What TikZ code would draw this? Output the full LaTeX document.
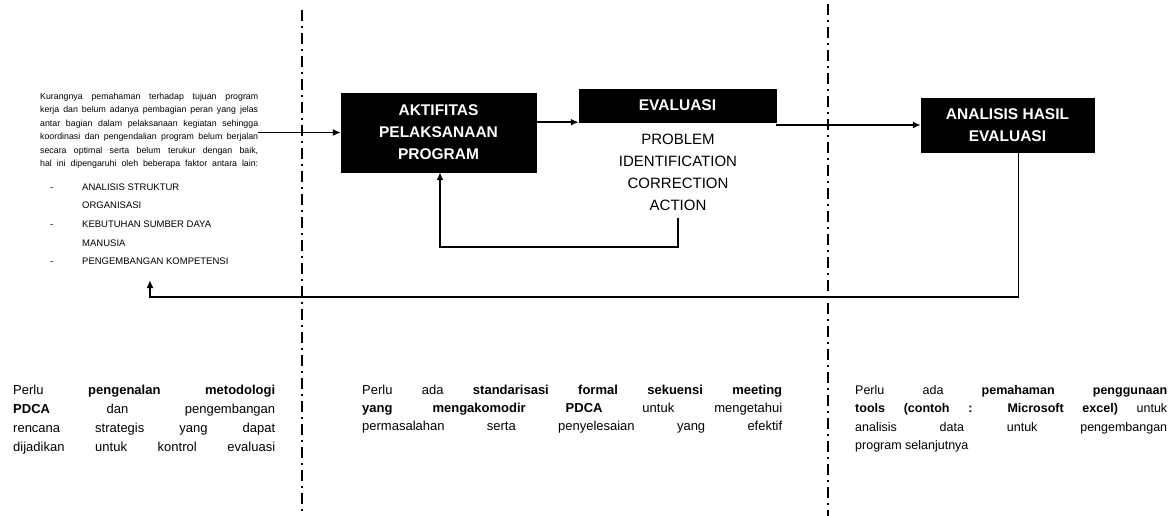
\documentclass[tikz,border=0pt]{standalone}
\usepackage{fontspec}
\setmainfont{Liberation Sans}
\usetikzlibrary{arrows.meta}
\hyphenpenalty=10000
\exhyphenpenalty=10000
\newcommand{\fullpar}{\parfillskip=0pt\relax}

\tikzset{
  blackbox/.style={draw, fill=black, text=white, align=center, inner sep=2pt,
    font=\fontsize{15.5}{22}\selectfont\bfseries},
  plainlist/.style={align=center, inner xsep=2pt, inner ysep=7pt,
    font=\fontsize{15}{22}\selectfont},
  arr/.style={line width=1.8pt, -{Latex[length=8pt,width=7pt]}},
  divider/.style={line width=1.5pt, dash pattern=on 11pt off 5pt on 2pt off 5pt},
  note/.style={anchor=north west, inner sep=0pt},
}

\begin{document}
\begin{tikzpicture}[x=1pt, y=-1pt]
	\useasboundingbox[fill=white] (0,0) rectangle (1173,516);

	% Dividers
	\draw[divider] (302,10) -- (302,512);
	\draw[divider] (828,4) -- (828,516);

	% Left column
	\node[note, font=\fontsize{8.8}{13.4}\selectfont] (issue) at (40,93)
		{\parbox{218pt}{\fullpar Kurangnya pemahaman terhadap tujuan program kerja dan belum adanya pembagian peran yang jelas antar bagian dalam pelaksanaan kegiatan sehingga koordinasi dan pengendalian program belum berjalan secara optimal serta belum terukur dengan baik, hal ini dipengaruhi oleh beberapa faktor antara lain:}};
	\node[note, font=\fontsize{9.5}{18.6}\selectfont] (causes) at (50,177)
		{\begin{tabular}{@{}p{32pt}@{}l@{}}
			- & ANALISIS STRUKTUR\\
			  & ORGANISASI\\
			- & KEBUTUHAN SUMBER DAYA\\
			  & MANUSIA\\
			- & PENGEMBANGAN KOMPETENSI
		\end{tabular}};

	% Boxes
	\node[blackbox, minimum width=195pt, minimum height=79pt] (aktif) at (438.5,132.5) {AKTIFITAS\\PELAKSANAAN\\PROGRAM};
	\node[blackbox, minimum width=197pt, minimum height=33pt] (eval) at (677.5,105.5) {EVALUASI};
	\node[plainlist] (pica) at (678,172) {PROBLEM\\IDENTIFICATION\\CORRECTION\\ACTION};
	\node[blackbox, minimum width=173pt, minimum height=54pt] (hasil) at (1007.5,125) {ANALISIS HASIL\\EVALUASI};

	% Connectors
	\coordinate (loop) at (440,247);
	\coordinate (back) at (150,297);
	\coordinate (backtip) at (150,280);
	\draw[arr] (issue.east |- aktif.west) -- (aktif.west);
	\draw[arr] (aktif.east |- eval.south west) -- (eval.south west);
	\draw[arr] (eval.south east |- hasil.west) -- (hasil.west);
	\draw[arr] (pica.south) |- (loop) -- (loop |- aktif.south);
	\draw[arr] ([xshift=11pt]hasil.south) |- (back) -- (backtip);

	% Notes
	\node[note, font=\fontsize{13}{19}\selectfont] (noteA) at (13,385)
		{\parbox{262pt}{\fullpar Perlu \textbf{pengenalan metodologi}\linebreak \textbf{PDCA} dan pengembangan\linebreak rencana strategis yang dapat\linebreak dijadikan untuk kontrol evaluasi}};
	\node[note, font=\fontsize{13}{18}\selectfont] (noteB) at (362,385)
		{\parbox{420pt}{\fullpar Perlu ada \textbf{standarisasi formal sekuensi meeting}\linebreak \textbf{yang mengakomodir PDCA} untuk mengetahui\linebreak permasalahan serta penyelesaian yang efektif}};
	\node[note, font=\fontsize{12.5}{18.5}\selectfont] (noteC) at (855,385)
		{\parbox{312pt}{Perlu ada \textbf{pemahaman penggunaan}\linebreak \textbf{tools (contoh : Microsoft excel)} untuk\linebreak analisis data untuk pengembangan\linebreak program selanjutnya}};
\end{tikzpicture}
\end{document}
